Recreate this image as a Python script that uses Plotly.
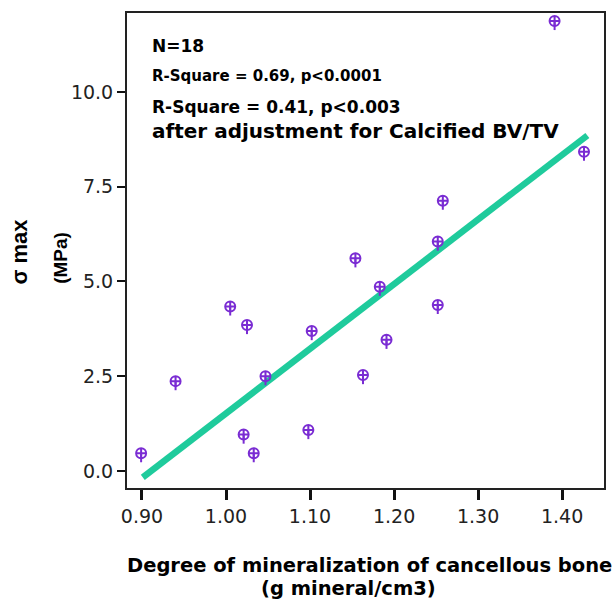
import plotly.graph_objects as go

# Data
dmb = [0.899, 0.940, 1.005, 1.025, 1.047, 1.021, 1.033, 1.154, 1.183, 1.252,
       1.252, 1.102, 1.191, 1.163, 1.098, 1.258, 1.426, 1.391]
sigma_max = [0.47, 2.37, 4.34, 3.85, 2.50, 0.96, 0.47, 5.61, 4.86, 6.05,
             4.38, 3.69, 3.46, 2.53, 1.08, 7.13, 8.42, 11.87]
fit_x = [0.901, 1.430]
fit_y = [-0.17, 8.85]
x_ticks = [0.90, 1.00, 1.10, 1.20, 1.30, 1.40]
x_ticklabels = ["0.90", "1.00", "1.10", "1.20", "1.30", "1.40"]
y_ticks = [0.0, 2.5, 5.0, 7.5, 10.0]
y_ticklabels = ["0.0", "2.5", "5.0", "7.5", "10.0"]
notes = ["N=18", "R-Square = 0.69, p<0.0001", "R-Square = 0.41, p<0.003",
         "after adjustment for Calcified BV/TV"]

PURPLE = "#7A2CD3"
TEAL = "#1FCB9C"
WIDE = "DejaVu Sans, Liberation Sans, sans-serif"
NARROW = "Liberation Sans, Arial, sans-serif"

fig = go.Figure()
fig.add_trace(go.Scatter(
    x=fit_x, y=fit_y, mode="lines",
    line=dict(color=TEAL, width=6.5), showlegend=False, hoverinfo="skip"))
fig.add_trace(go.Scatter(
    x=dmb, y=sigma_max, mode="markers",
    marker=dict(symbol="circle-cross-open", size=10, color=PURPLE,
                line=dict(color=PURPLE, width=2)),
    error_y=dict(type="data", symmetric=False, array=[0] * len(sigma_max),
                 arrayminus=[0.24] * len(sigma_max), color=PURPLE,
                 thickness=2, width=0),
    showlegend=False))

fig.update_layout(
    width=614, height=599,
    margin=dict(l=127, r=8, t=13, b=111),
    paper_bgcolor="white", plot_bgcolor="white",
    font=dict(family=WIDE, color="#111", size=18),
    xaxis=dict(range=[0.8822, 1.4498], tickvals=x_ticks, ticktext=x_ticklabels,
               showgrid=False, zeroline=False, showline=True, mirror=True,
               linecolor="#222", linewidth=2, ticks="outside", ticklen=10,
               tickwidth=3, tickcolor="#111",
               tickfont=dict(family=WIDE, size=19, color="#222")),
    yaxis=dict(range=[-0.449, 12.08], tickvals=y_ticks, ticktext=y_ticklabels,
               showgrid=False, zeroline=False, showline=True, mirror=True,
               linecolor="#222", linewidth=2, ticks="outside", ticklen=8,
               tickwidth=2, tickcolor="#111",
               tickfont=dict(family=WIDE, size=19, color="#222")),
)

# axis titles
fig.add_annotation(text="<b>Degree of mineralization of cancellous bone</b>",
                   xref="paper", yref="paper", x=0.508, y=-0.164,
                   xanchor="center", yanchor="middle", showarrow=False,
                   font=dict(family=WIDE, size=19.5, color="#000"))
fig.add_annotation(text="<b>(g mineral/cm3)</b>",
                   xref="paper", yref="paper", x=0.465, y=-0.212,
                   xanchor="center", yanchor="middle", showarrow=False,
                   font=dict(family=WIDE, size=19.5, color="#000"))
fig.add_annotation(text="<b>σ max</b>", xref="paper", yref="paper",
                   x=-0.225, y=0.497, textangle=-90,
                   xanchor="center", yanchor="middle", showarrow=False,
                   font=dict(family=NARROW, size=22, color="#000"))
fig.add_annotation(text="<b>(MPa)</b>", xref="paper", yref="paper",
                   x=-0.140, y=0.485, textangle=-90,
                   xanchor="center", yanchor="middle", showarrow=False,
                   font=dict(family=NARROW, size=19, color="#000"))

# statistics notes
note_y = [0.930, 0.868, 0.802, 0.752]
note_size = [17, 15, 17, 20]
for t, yy, s in zip(notes, note_y, note_size):
    fig.add_annotation(text="<b>" + t + "</b>", xref="paper", yref="paper",
                       x=0.049, y=yy, xanchor="left", yanchor="middle",
                       showarrow=False, font=dict(family=WIDE, size=s, color="#000"))

fig.write_html("out.html", config={"displayModeBar": False},
               post_script="document.body.style.margin='0';")
